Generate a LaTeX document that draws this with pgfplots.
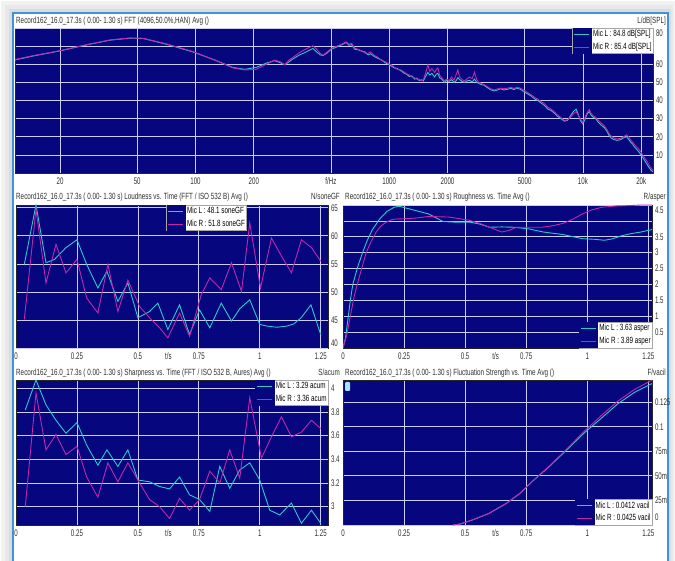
\documentclass[border=0pt]{standalone}
\usepackage{fontspec}
\setmainfont{Liberation Sans}[FakeStretch=0.7]
\newfontfamily\tickfont{Liberation Sans}[FakeStretch=0.64]
\usepackage{pgfplots}
\pgfplotsset{compat=1.18}
\definecolor{navybg}{HTML}{06067E}
\definecolor{gridc}{HTML}{CCCCF2}
\definecolor{cy}{HTML}{30C8C8}
\definecolor{mg}{HTML}{C028A8}
\definecolor{framec}{HTML}{3A92E0}
\definecolor{txt}{HTML}{303030}
\newcommand\tf{\fontsize{9}{10}\selectfont}
\newcommand\kf{\tickfont\fontsize{9.6}{10}\selectfont}
\pgfplotsset{
  panel/.style={scale only axis, anchor=north west,
    axis background/.style={fill=navybg},
    grid=major, major grid style={gridc, line width=0.7pt},
    axis line style={draw=black!85, line width=0.5pt},
    major tick length=0pt, minor tick length=0pt,
    ticklabel style={font=\kf, text=txt},
    xticklabel style={yshift=-1.2pt},
    yticklabel pos=right,
    yticklabel style={xshift=-0.5pt},
    legend cell align=left,
    legend style={draw=gray!70, fill=white, font=\tf, inner sep=0pt,
      row sep=0pt, nodes={inner sep=1.2pt, text height=7pt, text depth=2.5pt, anchor=west}},
    legend image code/.code={\fill[navybg] (-1.5pt,-5.9pt) rectangle (17pt,5.9pt);
      \draw[##1, line width=1pt] (0pt,0pt) -- (15pt,0pt);},
  },
  tpanel/.style={panel, xmin=0, xmax=1.28,
    xtick={0,0.25,0.5,0.75,1,1.25}, xticklabels={0,0.25,0.5,0.75,1,1.25},
    extra x ticks={0.625}, extra x tick labels={t/s}, extra x tick style={grid=none}},
  cyl/.style={cy, line width=0.9pt},
  mgl/.style={mg, line width=0.9pt},
}
\begin{document}
\begin{tikzpicture}
\useasboundingbox (0,0) rectangle (675pt,-561pt);
\fill[white] (0,0) rectangle (675pt,-561pt);
\fill[gray!10] (1pt,-1pt) rectangle (675pt,-561pt);
\fill[gray!18] (5pt,-5pt) rectangle (673pt,-561pt);
\fill[gray!28] (9pt,-9pt) rectangle (671pt,-561pt);
\fill[white] (13pt,-13pt) rectangle (668pt,-561pt);
\draw[framec, line width=1.6pt] (13pt,-561pt) -- (13pt,-13pt) -- (668pt,-13pt) -- (668pt,-561pt);

% titles
\node[anchor=base west, font=\tf, text=txt, inner sep=0pt] at (16pt,-24pt) {Record162\_16.0\_17.3s ( 0.00- 1.30 s) FFT (4096,50.0\%,HAN) Avg ()};
\node[anchor=base east, font=\tf, text=txt, inner sep=0pt] at (666pt,-24pt) {L/dB[SPL]};
\node[anchor=base west, font=\tf, text=txt, inner sep=0pt] at (16pt,-199.5pt) {Record162\_16.0\_17.3s ( 0.00- 1.30 s) Loudness vs. Time (FFT / ISO 532 B) Avg ()};
\node[anchor=base east, font=\tf, text=txt, inner sep=0pt] at (340pt,-199.5pt) {N/soneGF};
\node[anchor=base west, font=\tf, text=txt, inner sep=0pt] at (345pt,-199.5pt) {Record162\_16.0\_17.3s ( 0.00- 1.30 s) Roughness vs. Time Avg ()};
\node[anchor=base east, font=\tf, text=txt, inner sep=0pt] at (666pt,-199.5pt) {R/asper};
\node[anchor=base west, font=\tf, text=txt, inner sep=0pt] at (16pt,-375pt) {Record162\_16.0\_17.3s ( 0.00- 1.30 s) Sharpness vs. Time (FFT / ISO 532 B, Aures) Avg ()};
\node[anchor=base east, font=\tf, text=txt, inner sep=0pt] at (340pt,-375pt) {S/acum};
\node[anchor=base west, font=\tf, text=txt, inner sep=0pt] at (345pt,-375pt) {Record162\_16.0\_17.3s ( 0.00- 1.30 s) Fluctuation Strength vs. Time Avg ()};
\node[anchor=base east, font=\tf, text=txt, inner sep=0pt] at (666pt,-375pt) {F/vacil};

% ---------------- FFT ----------------
\begin{axis}[panel, xmode=log, at={(15pt,-28pt)}, width=638pt, height=145pt,
  xmin=11.7, xmax=23000, ymin=0, ymax=80,
  xtick={20,50,100,200,500,1000,2000,5000,10000,20000},
  xticklabels={20,50,100,200,f/Hz,1000,2000,5000,10k,20k},
  ytick={10,20,30,40,50,60,70}, yticklabels={10,20,30,40,50,60,},
  extra y ticks={80}, extra y tick labels={80}, extra y tick style={yticklabel style={yshift=-5pt}},
  legend style={at={(1,1)}, anchor=north east}]
\addplot[cyl] coordinates {
(11.7,62.4)(14.6,64.6)(20,67.4)(27.4,70.7)(36.2,73.3)(45.9,74.4)(53.8,74.2)(71,71.0)(97,66.8)(128,62.0)(156,58.2)(180,57.2)(206,58.3)(232,60.6)(256,62.0)(272,61.0)(289,59.6)(305,61.5)(319,63.0)(345,65.2)(366,66.4)(385,67.6)(404,68.7)(420,67.0)(440,65.2)(455,64.8)(475,66.0)(503,68.3)(530,69.3)(562,70.5)(585,71.5)(601,72.0)(620,70.5)(640,70.8)(663,68.3)(690,68.0)(720,67.2)(750,66.8)(777,65.2)(800,65.8)(840,64.2)(875,63.2)(910,62.5)(950,61.0)(985,60.0)(1020,59.2)(1060,58.0)(1100,57.6)(1154,56.3)(1190,55.2)(1230,54.5)(1270,53.2)(1310,53.6)(1352,51.8)(1390,52.3)(1430,51.0)(1470,51.4)(1500,50.8)(1540,53.2)(1583,55.5)(1620,54.0)(1660,55.0)(1714,53.0)(1750,54.5)(1783,55.0)(1820,52.5)(1870,51.8)(1930,50.0)(1980,51.2)(2040,50.5)(2100,51.5)(2160,50.0)(2220,51.0)(2260,52.6)(2310,51.5)(2380,50.5)(2448,50.0)(2520,50.8)(2600,51.2)(2680,50.2)(2756,51.8)(2830,50.0)(2900,49.5)(2984,48.8)(3080,48.5)(3200,47.2)(3330,46.0)(3494,45.3)(3620,45.8)(3760,46.5)(3900,45.8)(4092,46.2)(4250,46.8)(4400,46.0)(4550,46.9)(4700,46.4)(4850,45.6)(5000,44.6)(5188,43.6)(5400,42.5)(5650,40.8)(5850,40.0)(6081,38.6)(6300,37.5)(6600,35.2)(6850,34.5)(7120,33.0)(7400,31.2)(7700,30.0)(8022,28.6)(8300,29.0)(8500,30.5)(8685,32.0)(8950,34.0)(9216,35.2)(9450,32.5)(9700,29.0)(9965,27.2)(10200,29.0)(10500,32.5)(10790,33.8)(11000,32.0)(11300,30.8)(11680,29.8)(12000,28.0)(12400,26.5)(12900,25.0)(13300,23.0)(13600,21.0)(13960,19.4)(14400,18.5)(15000,18.0)(15720,18.5)(16300,19.6)(16800,20.0)(17200,18.6)(17700,16.8)(18100,15.8)(18400,14.5)(18900,13.2)(19400,11.8)(19900,10.2)(20300,8.8)(20800,7.0)(21300,5.2)(21900,3.2)(22440,1.6)(23000,0.6)};
\addlegendentry{Mic L : 84.8 dB[SPL]}
\addplot[mgl] coordinates {
(11.7,62.6)(14.6,64.8)(20,67.5)(27.4,70.8)(36.2,73.4)(45.9,74.5)(53.8,74.3)(71,71.2)(97,67.0)(128,62.0)(156,58.0)(180,56.8)(206,57.2)(232,60.0)(256,62.3)(272,61.5)(289,59.8)(305,62.5)(319,63.8)(345,66.5)(366,68.0)(385,69.2)(404,70.2)(420,68.5)(440,66.0)(455,65.0)(475,66.5)(503,68.8)(530,69.8)(562,70.8)(585,71.8)(601,72.3)(620,71.0)(640,71.5)(663,69.0)(690,68.2)(720,67.5)(750,66.2)(777,66.0)(800,66.8)(840,64.8)(875,63.8)(910,62.2)(950,61.5)(985,60.5)(1020,59.8)(1060,58.5)(1100,57.2)(1154,56.8)(1190,55.8)(1230,54.8)(1270,54.0)(1310,53.0)(1352,52.5)(1390,51.8)(1430,51.6)(1470,50.8)(1500,51.5)(1540,55.0)(1583,59.6)(1620,56.0)(1660,57.5)(1714,55.5)(1750,57.0)(1783,58.0)(1820,54.0)(1870,52.5)(1930,50.8)(1980,51.8)(2040,51.0)(2100,53.0)(2160,51.2)(2220,54.5)(2260,56.9)(2310,53.0)(2380,51.5)(2448,50.8)(2520,52.0)(2600,53.0)(2680,52.0)(2756,55.6)(2830,51.5)(2900,50.0)(2984,49.5)(3080,48.8)(3200,47.8)(3330,46.5)(3494,45.8)(3620,46.4)(3760,46.8)(3900,46.5)(4092,46.8)(4250,47.3)(4400,46.6)(4550,47.3)(4700,47.0)(4850,46.3)(5000,45.4)(5188,44.4)(5400,43.2)(5650,41.6)(5850,40.8)(6081,39.4)(6300,38.4)(6600,36.2)(6850,35.2)(7120,33.8)(7400,32.0)(7700,30.6)(8022,29.0)(8300,29.3)(8500,30.2)(8685,31.0)(8950,32.8)(9216,33.8)(9450,32.0)(9700,29.8)(9965,28.0)(10200,30.2)(10500,33.2)(10790,35.0)(11000,33.0)(11300,31.6)(11680,30.6)(12000,29.0)(12400,27.6)(12900,26.0)(13300,24.0)(13600,22.0)(13960,20.4)(14400,19.4)(15000,18.8)(15720,19.2)(16300,20.2)(16800,21.1)(17200,20.0)(17700,18.0)(18100,16.8)(18400,15.8)(18900,14.5)(19400,13.2)(19900,11.6)(20300,10.2)(20800,8.4)(21300,6.8)(21900,4.6)(22440,2.8)(23000,1.4)};
\addlegendentry{Mic R : 85.4 dB[SPL]}
\end{axis}

% ---------------- Loudness ----------------
\begin{axis}[tpanel, at={(16pt,-205pt)}, width=312pt, height=143pt,
  ymin=40, ymax=65.5, ytick={45,50,55,60,65}, yticklabels={45,50,55,60,65},
  extra y ticks={40}, extra y tick labels={40}, extra y tick style={yticklabel style={yshift=5pt}},
  legend style={at={(0.61,1)}, anchor=north}]
\addplot[cyl] coordinates {(0.034,54.9)(0.082,65.5)(0.123,55.2)(0.158,55.8)(0.205,57.9)(0.25,59.3)(0.29,54.9)(0.336,50.7)(0.373,53.7)(0.418,48.3)(0.459,51.6)(0.5,45.4)(0.548,46.5)(0.582,48.0)(0.623,43.3)(0.671,47.7)(0.712,42.4)(0.753,46.8)(0.795,43.6)(0.842,48.0)(0.884,44.8)(0.918,47.0)(0.959,48.6)(1.0,44.2)(1.03,43.9)(1.07,43.7)(1.11,43.9)(1.14,44.3)(1.17,45.4)(1.21,47.7)(1.25,42.4)};
\addlegendentry{Mic L : 48.1 soneGF}
\addplot[mgl] coordinates {(0.034,45.1)(0.082,64.7)(0.123,51.6)(0.164,58.5)(0.205,53.4)(0.25,55.8)(0.29,48.9)(0.336,46.25)(0.377,54.9)(0.418,46.5)(0.459,52.1)(0.507,47.4)(0.548,45.4)(0.589,43.6)(0.623,41.8)(0.671,46.25)(0.712,42.1)(0.76,49.5)(0.795,52.5)(0.842,50.4)(0.884,55.2)(0.925,50.1)(0.959,62.3)(1.003,50.7)(1.048,59.6)(1.089,56.4)(1.13,53.4)(1.171,59.3)(1.212,57.9)(1.25,55.5)};
\addlegendentry{Mic R : 51.8 soneGF}
\end{axis}

% ---------------- Roughness ----------------
\begin{axis}[tpanel, xmax=1.265, at={(343pt,-205pt)}, width=309pt, height=143pt,
  ymin=0, ymax=4.5, ytick={0.5,1,1.5,2,2.5,3,3.5,4}, yticklabels={0.5,1,1.5,2,2.5,3,3.5,},
  extra y ticks={4.5}, extra y tick labels={4.5}, extra y tick style={yticklabel style={yshift=-5pt}},
  legend style={at={(1,0)}, anchor=south east}]
\addplot[cyl] coordinates {(0,0)(0.01,0.3)(0.02,0.9)(0.03,1.5)(0.04,2.0)(0.06,2.55)(0.08,3.0)(0.10,3.4)(0.12,3.72)(0.15,4.06)(0.18,4.3)(0.21,4.43)(0.23,4.46)(0.26,4.4)(0.30,4.32)(0.35,4.22)(0.41,3.98)(0.46,3.96)(0.52,3.96)(0.56,3.9)(0.60,3.8)(0.65,3.81)(0.70,3.8)(0.76,3.75)(0.82,3.65)(0.90,3.57)(0.98,3.44)(1.03,3.42)(1.07,3.39)(1.10,3.43)(1.14,3.53)(1.18,3.6)(1.22,3.65)(1.26,3.72)(1.28,3.74)};
\addlegendentry{Mic L : 3.63 asper}
\addplot[mgl] coordinates {(0,0)(0.015,0.4)(0.03,1.0)(0.045,1.6)(0.06,2.05)(0.08,2.6)(0.095,3.0)(0.115,3.35)(0.136,3.65)(0.155,3.84)(0.177,3.96)(0.2,4.04)(0.217,4.06)(0.26,4.07)(0.3,4.09)(0.35,4.14)(0.435,4.12)(0.516,4.02)(0.56,3.92)(0.6,3.8)(0.65,3.65)(0.68,3.7)(0.71,3.8)(0.76,3.8)(0.815,3.8)(0.86,3.85)(0.9,3.92)(0.94,4.05)(0.98,4.22)(1.02,4.35)(1.06,4.43)(1.12,4.47)(1.17,4.48)(1.22,4.5)(1.28,4.5)};
\addlegendentry{Mic R : 3.89 asper}
\end{axis}

% ---------------- Sharpness ----------------
\begin{axis}[tpanel, at={(16pt,-380pt)}, width=312pt, height=145pt,
  ymin=2.845, ymax=4.07, ytick={3,3.2,3.4,3.6,3.8,4}, yticklabels={3,3.2,3.4,3.6,3.8,4},
  legend style={at={(1,1)}, anchor=north east}]
\addplot[cyl] coordinates {(0.038,3.817)(0.082,4.07)(0.123,3.86)(0.164,3.73)(0.205,3.62)(0.25,3.71)(0.29,3.52)(0.336,3.35)(0.373,3.48)(0.418,3.34)(0.459,3.48)(0.5,3.225)(0.548,3.21)(0.589,3.17)(0.63,3.15)(0.671,3.25)(0.712,3.10)(0.753,3.06)(0.795,2.96)(0.836,3.34)(0.877,3.155)(0.918,3.31)(0.959,3.37)(1.0,3.225)(1.041,2.97)(1.082,2.93)(1.13,3.03)(1.171,2.86)(1.212,2.97)(1.25,2.86)};
\addlegendentry{Mic L : 3.29 acum}
\addplot[mgl] coordinates {(0.038,3.0)(0.082,3.96)(0.123,3.48)(0.164,3.61)(0.205,3.44)(0.25,3.51)(0.29,3.25)(0.336,3.08)(0.377,3.37)(0.418,3.21)(0.459,3.37)(0.507,3.20)(0.548,3.06)(0.589,3.0)(0.63,2.90)(0.671,3.07)(0.712,2.97)(0.753,3.06)(0.795,3.30)(0.836,3.20)(0.877,3.48)(0.918,3.24)(0.959,3.92)(1.007,3.41)(1.048,3.59)(1.089,3.76)(1.13,3.59)(1.171,3.63)(1.212,3.73)(1.25,3.66)};
\addlegendentry{Mic R : 3.36 acum}
\end{axis}

% ---------------- Fluctuation ----------------
\begin{axis}[tpanel, xmax=1.265, at={(343pt,-380pt)}, width=309pt, height=145pt,
  ymin=0, ymax=0.1475, ytick={0.025,0.05,0.075,0.1,0.125}, yticklabels={25m,50m,75m,0.1,0.125},
  extra y ticks={0}, extra y tick labels={0}, extra y tick style={yticklabel style={yshift=8pt}},
  legend style={at={(1,0)}, anchor=south east}]
\addplot[cyl] coordinates {(0.45,0)(0.48,0.001)(0.528,0.005)(0.597,0.0117)(0.667,0.0217)(0.722,0.0317)(0.778,0.045)(0.847,0.060)(0.917,0.0767)(0.986,0.0933)(1.056,0.1083)(1.125,0.1233)(1.194,0.135)(1.26,0.1433)(1.28,0.145)};
\addlegendentry{Mic L : 0.0412 vacil}
\addplot[mgl] coordinates {(0.45,0)(0.48,0.001)(0.528,0.005)(0.597,0.0117)(0.667,0.0217)(0.722,0.0317)(0.778,0.045)(0.847,0.0605)(0.917,0.0775)(0.986,0.095)(1.056,0.111)(1.125,0.126)(1.194,0.138)(1.26,0.1467)(1.28,0.148)};
\addlegendentry{Mic R : 0.0425 vacil}
\end{axis}
\fill[cyan!35, rounded corners=1pt] (345pt,-382pt) rectangle (350pt,-391pt);
\end{tikzpicture}
\end{document}
